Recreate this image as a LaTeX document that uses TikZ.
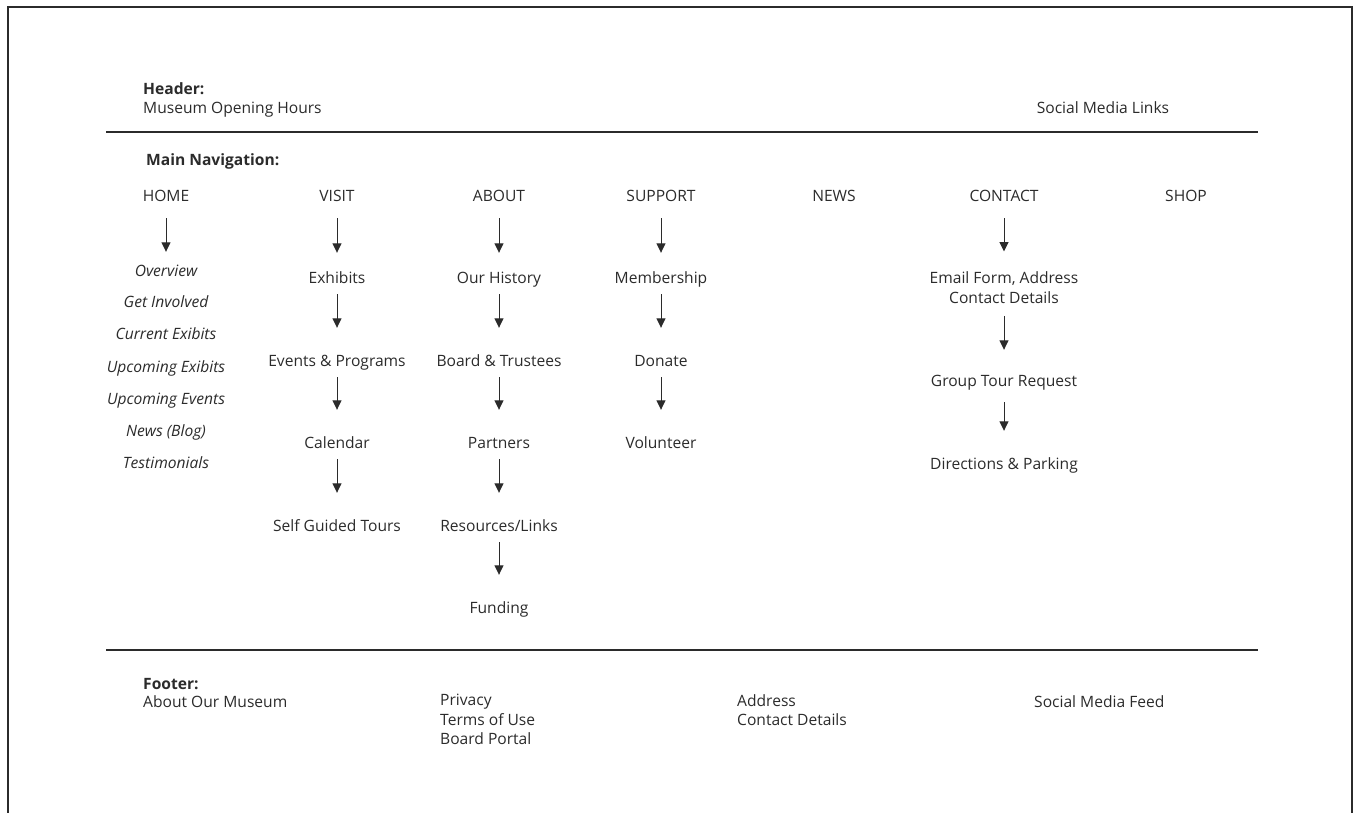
\documentclass[tikz,border=0pt]{standalone}
\usepackage{fontspec}
\setmainfont{Open Sans}
\usetikzlibrary{arrows.meta}
\definecolor{ink}{HTML}{2B2B2B}
\newcommand\basefont{\fontsize{15.6}{19.6}\selectfont}
\begin{document}
\begin{tikzpicture}[x=1pt,y=-1pt,
  every node/.style={inner sep=0pt,text=ink,font=\basefont,yshift=-1pt},
  lbl/.style={anchor=base west},
  bold/.style={anchor=base west,font=\basefont\bfseries},
  item/.style={anchor=base,text height=10pt,text depth=3pt},
  sub/.style={anchor=base,font=\basefont\itshape},
  rule/.style={line width=1.1pt,draw=ink},
  navarrow/.style={-{Triangle[length=9.5pt,width=9pt]},line width=1pt,draw=ink,shorten <=14pt,shorten >=20pt},
  subarrow/.style={-{Triangle[length=9.5pt,width=9pt]},line width=1pt,draw=ink,shorten <=8pt,shorten >=28pt}]
\useasboundingbox (0,0) rectangle (1353,812);
% outer frame
\draw[line width=1.3pt,draw=ink] (8,7) rectangle (1352,830);

% header
\node[bold] (hdr) at (143,93) {Header:};
\node[lbl] (hours) at (143,112) {Museum Opening Hours};
\node[anchor=base] (social) at (1103,112) {Social Media Links};
\coordinate (r1a) at (106,131);
\coordinate (r1b) at (1258,131);
\draw[rule] (r1a) -- (r1b);

% main navigation
\node[bold] (mainnav) at (146,164) {Main Navigation:};
\node[item] (home) at (166,200) {HOME};
\node[item] (visit) at (337,200) {VISIT};
\node[item] (about) at (499,200) {ABOUT};
\node[item] (support) at (661,200) {SUPPORT};
\node[item] (news) at (834,200) {NEWS};
\node[item] (contact) at (1004,200) {CONTACT};
\node[item] (shop) at (1186,200) {SHOP};

% home
\node[sub,text height=10pt,text depth=3pt] (h1) at (166,275) {Overview};
\node[sub] (h2) at (166,306) {Get Involved};
\node[sub] (h3) at (166,338) {Current Exibits};
\node[sub] (h4) at (166,371) {Upcoming Exibits};
\node[sub] (h5) at (166,403) {Upcoming Events};
\node[sub] (h6) at (166,435) {News (Blog)};
\node[sub] (h7) at (166,467) {Testimonials};
\draw[navarrow,shorten >=14pt] (home.south) -- (h1.north);

% visit
\node[item] (v1) at (337,282) {Exhibits};
\node[item] (v2) at (337,365) {Events \& Programs};
\node[item] (v3) at (337,447) {Calendar};
\node[item] (v4) at (337,530) {Self Guided Tours};
\draw[navarrow] (visit.south) -- (v1.north);
\draw[subarrow] (v1.south) -- (v2.north);
\draw[subarrow] (v2.south) -- (v3.north);
\draw[subarrow] (v3.south) -- (v4.north);

% about
\node[item] (a1) at (499,282) {Our History};
\node[item] (a2) at (499,365) {Board \& Trustees};
\node[item] (a3) at (499,447) {Partners};
\node[item] (a4) at (499,530) {Resources/Links};
\node[item] (a5) at (499,612) {Funding};
\draw[navarrow] (about.south) -- (a1.north);
\draw[subarrow] (a1.south) -- (a2.north);
\draw[subarrow] (a2.south) -- (a3.north);
\draw[subarrow] (a3.south) -- (a4.north);
\draw[subarrow] (a4.south) -- (a5.north);

% support
\node[item] (s1) at (661,282) {Membership};
\node[item] (s2) at (661,365) {Donate};
\node[item] (s3) at (661,447) {Volunteer};
\draw[navarrow] (support.south) -- (s1.north);
\draw[subarrow] (s1.south) -- (s2.north);
\draw[subarrow] (s2.south) -- (s3.north);

% contact
\node[anchor=north,align=center,font=\fontsize{15.6}{20}\selectfont] (c1) at (1004,270.5) {Email Form, Address\\Contact Details};
\node[item] (c2) at (1004,385) {Group Tour Request};
\node[item] (c3) at (1004,468) {Directions \& Parking};
\draw[navarrow] (contact.south) -- (c1.north);
\draw[subarrow,shorten <=12pt,shorten >=26pt] (c1.south) -- (c2.north);
\draw[subarrow,shorten <=13pt] (c2.south) -- (c3.north);

% footer
\coordinate (r2a) at (106,649);
\coordinate (r2b) at (1258,649);
\draw[rule] (r2a) -- (r2b);
\node[bold] (ftr) at (143,688) {Footer:};
\node[lbl] (aboutus) at (143,706) {About Our Museum};
\node[lbl,anchor=north west,align=left] (legal) at (440,693) {Privacy\\Terms of Use\\Board Portal};
\node[lbl,anchor=north west,align=left] (addr) at (737,693) {Address\\Contact Details};
\node[lbl] (feed) at (1034,706) {Social Media Feed};
\end{tikzpicture}
\end{document}
